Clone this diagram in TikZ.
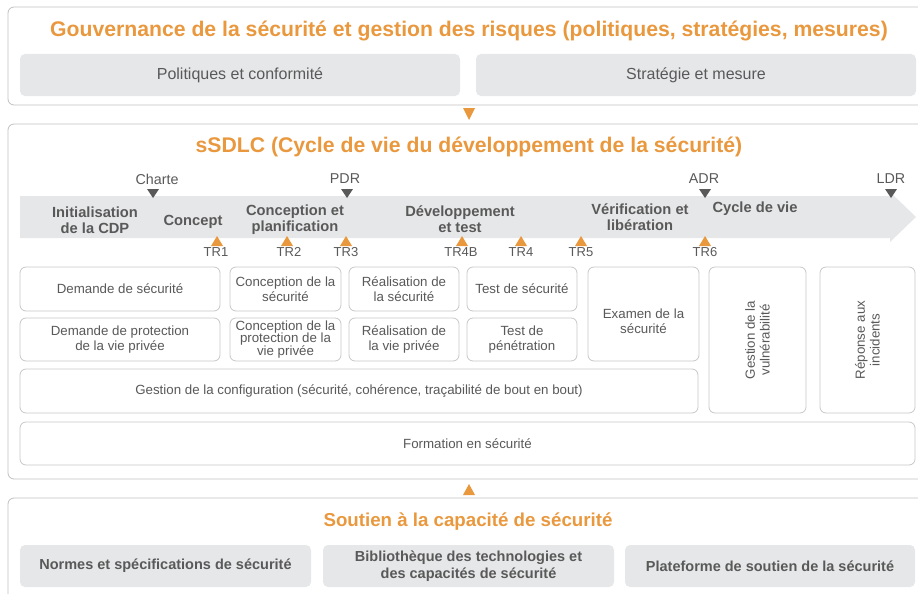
\documentclass[tikz,border=0pt]{standalone}
\usepackage{fontspec}
\setmainfont{Liberation Sans}
\definecolor{orng}{RGB}{233,152,62}
\definecolor{txtgray}{RGB}{89,89,89}
\definecolor{boxgray}{RGB}{230,231,232}
\definecolor{framegray}{RGB}{192,192,192}
\definecolor{boxline}{RGB}{200,200,200}
\newcommand\msdown[1]{\fill[txtgray] (#1,198) -- ++(-6,-9) -- ++(12,0) -- cycle;}
\newcommand\trup[1]{\fill[orng] (#1,236) -- ++(-6,10) -- ++(12,0) -- cycle;}
\begin{document}
\begin{tikzpicture}[x=1pt,y=-1pt,
  frame/.style={draw=framegray, line width=0.8pt, rounded corners=6pt},
  title/.style={text=orng, font=\bfseries\fontsize{21.2}{24}\selectfont, inner sep=0pt},
  gbox/.style={fill=boxgray, rounded corners=5pt, text=txtgray, align=center, inner sep=0pt},
  gtext/.style={gbox, font=\fontsize{16}{18}\selectfont},
  btext/.style={gbox, font=\bfseries\fontsize{14.5}{17}\selectfont},
  wbox/.style={draw=boxline, line width=0.8pt, fill=white, rounded corners=6pt, text=txtgray, align=center, inner sep=0pt, font=\fontsize{13.3}{14.8}\selectfont},
  phase/.style={text=txtgray, align=center, inner sep=0pt, font=\bfseries\fontsize{14.7}{16}\selectfont},
  mslab/.style={text=txtgray, inner sep=0pt, font=\fontsize{14.3}{16}\selectfont},
  trlab/.style={text=txtgray, inner sep=0pt, font=\fontsize{13}{15}\selectfont},
  plain/.style={text=txtgray, align=center, inner sep=0pt, font=\fontsize{13.3}{14.8}\selectfont}]
\useasboundingbox (0,0) rectangle (918,594);
% frames
\draw[frame] (8,7) rectangle (940,105);
\draw[frame] (8,124) rectangle (940,479);
\draw[frame] (8,498) rectangle (940,620);
% governance
\node[title] (t1) at (469,31) {Gouvernance de la sécurité et gestion des risques (politiques, stratégies, mesures)};
\node[gtext, minimum width=440, minimum height=42] (pol) at (240,75) {Politiques et conformité};
\node[gtext, minimum width=440, minimum height=42] (str) at (696,75) {Stratégie et mesure};
\fill[orng] (463,108) -- (475,108) -- (469,120) -- cycle;
% sSDLC
\node[title] (t2) at (469,147) {sSDLC (Cycle de vie du développement de la sécurité)};
\fill[boxgray] (20,196) -- (890,196) -- (890,192) -- (916,217) -- (890,242) -- (890,238) -- (20,238) -- cycle;
% milestones
\msdown{153} \msdown{347} \msdown{705} \msdown{891}
\node[mslab] (ch) at (157,179) {Charte};
\node[mslab] (pdr) at (345,179) {PDR};
\node[mslab] (adr) at (704,179) {ADR};
\node[mslab] (ldr) at (891,179) {LDR};
% TR
\trup{217} \trup{287} \trup{346} \trup{462} \trup{521} \trup{581} \trup{705}
\node[trlab] (tr1) at (216,252) {TR1};
\node[trlab] (tr2) at (289,252) {TR2};
\node[trlab] (tr3) at (346,252) {TR3};
\node[trlab] (tr4b) at (461,252) {TR4B};
\node[trlab] (tr4) at (521,252) {TR4};
\node[trlab] (tr5) at (581,252) {TR5};
\node[trlab] (tr6) at (705,252) {TR6};
% phases
\node[phase] (p1) at (95,220) {Initialisation\\de la CDP};
\node[phase] (p2) at (193,222) {Concept};
\node[phase] (p3) at (295,220) {Conception et\\planification};
\node[phase] (p4) at (460,219.5) {Développement\\et test};
\node[phase] (p5) at (640,217) {Vérification et\\libération};
\node[phase] (p6) at (755,209) {Cycle de vie};
% activity boxes
\node[wbox, minimum width=200, minimum height=44] (ds) at (120,289) {Demande de sécurité};
\node[wbox, minimum width=200, minimum height=43] (dp) at (120,339.5) {Demande de protection\\de la vie privée};
\node[wbox, minimum width=111, minimum height=44] (cs) at (285.5,289) {Conception de la\\sécurité};
\node[wbox, minimum width=111, minimum height=43, font=\fontsize{13.3}{12.8}\selectfont] (cp) at (285.5,339.5) {Conception de la\\protection de la\\vie privée};
\node[wbox, minimum width=110, minimum height=44] (rs) at (404,289) {Réalisation de\\la sécurité};
\node[wbox, minimum width=110, minimum height=43] (rp) at (404,339.5) {Réalisation de\\la vie privée};
\node[wbox, minimum width=110, minimum height=44] (ts) at (522,289) {Test de sécurité};
\node[wbox, minimum width=110, minimum height=43] (tp) at (522,339.5) {Test de\\pénétration};
\node[wbox, minimum width=111, minimum height=94] (ex) at (643.5,314) {};
\node[plain] (exl) at ([yshift=-7pt]ex.center) {Examen de la\\sécurité};
\node[wbox, minimum width=678, minimum height=44] (gc) at (359,391) {Gestion de la configuration (sécurité, cohérence, traçabilité de bout en bout)};
\node[wbox, minimum width=97, minimum height=146] (gv) at (757.5,340) {};
\node[plain, rotate=90] (gvl) at (gv.center) {Gestion de la\\vulnérabilité};
\node[wbox, minimum width=95, minimum height=146] (ri) at (867.5,340) {};
\node[plain, rotate=90] (ril) at (ri.center) {Réponse aux\\incidents};
\node[wbox, minimum width=895, minimum height=43] (fs) at (467.5,443.5) {Formation en sécurité};
\fill[orng] (469,484) -- (463,495) -- (475,495) -- cycle;
% support
\node[title, font=\bfseries\fontsize{18.7}{21}\selectfont] (t3) at (468,521.5) {Soutien à la capacité de sécurité};
\node[btext, minimum width=291, minimum height=42] (ns) at (165.5,566) {Normes et spécifications de sécurité};
\node[btext, minimum width=291, minimum height=42] (bt) at (468.5,566) {Bibliothèque des technologies et\\des capacités de sécurité};
\node[btext, minimum width=290, minimum height=42] (pf) at (770,566) {Plateforme de soutien de la sécurité};
\end{tikzpicture}
\end{document}
